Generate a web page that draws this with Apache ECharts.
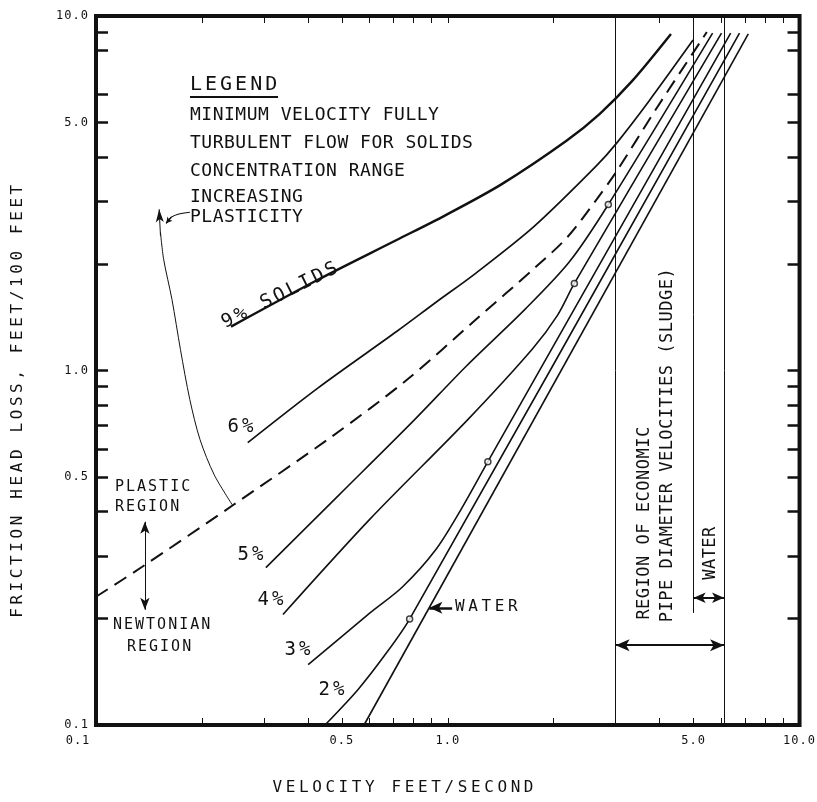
<!DOCTYPE html>
<html>
<head>
<meta charset="utf-8">
<script src="https://cdn.jsdelivr.net/npm/echarts@6.0.0/dist/echarts.min.js"></script>
<style>
html,body{margin:0;padding:0;background:#ffffff;}
#chart{width:817px;height:802px;}
</style>
</head>
<body>
<div id="chart"></div>
<script>
// ---- Data (velocity ft/s, friction head loss ft/100 ft) ----
const xTickValues = [0.2,0.3,0.4,0.5,0.6,0.7,0.8,0.9,1,2,3,4,5,6,7,8,9];
const yTickValues = [0.2,0.3,0.4,0.5,0.6,0.7,0.8,0.9,1,2,3,4,5,6,8,9];
const xLabelValues = [0.1,0.5,1,5,10];
const yLabelValues = [0.1,0.5,1,5,10];

const solids9 = [[0.242,1.33],[0.426,1.80],[0.713,2.33],[0.984,2.74],[1.42,3.35],[2.17,4.44],[2.70,5.29],[3.34,6.55],[4.31,8.90]];
const solids6 = [[0.270,0.626],[0.429,0.895],[0.717,1.29],[0.928,1.56],[1.20,1.88],[1.76,2.55],[2.64,3.77],[3.02,4.38],[3.73,5.75],[4.98,8.55]];
const boundary = [[0.1,0.230],[0.135,0.279],[0.246,0.418],[0.468,0.651],[0.767,0.943],[1.20,1.39],[1.77,1.95],[2.19,2.38],[2.65,3.04],[3.01,3.63],[3.94,5.53],[5.45,9.01]];
const solids5 = [[0.304,0.278],[0.491,0.446],[0.805,0.727],[1.13,1.03],[1.66,1.49],[2.22,2.03],[2.86,2.94],[5.66,8.95]];
const solids4 = [[0.340,0.205],[0.598,0.379],[1.14,0.727],[1.74,1.15],[2.05,1.43],[2.29,1.76],[6.00,8.95]];
const solids3 = [[0.401,0.148],[0.601,0.207],[0.743,0.245],[0.924,0.312],[1.09,0.405],[1.30,0.553],[6.37,8.95]];
const solids2 = [[0.452,0.101],[0.556,0.126],[0.664,0.158],[0.779,0.199],[6.75,8.95]];
const water = [[0.578,0.100],[7.15,8.90]];
const turbulentMin = [[0.779,0.199],[1.30,0.553],[2.29,1.76],[2.86,2.94]];
const plasticityArc = [[0.244,0.418],[0.2168,0.508],[0.1976,0.638],[0.1848,0.828],[0.1738,1.146],[0.1644,1.587],[0.1557,2.059],[0.1525,2.454]];
const plasticityLeader = [[0.1849,2.795],[0.1711,2.759],[0.1636,2.705],[0.1583,2.602]];
const sludgeRange = [3.0, 6.1];
const waterRange = [5.0, 6.1];

// letter spacing for the stencil-style lettering (applied by font size)
(function(){
  const P = CanvasRenderingContext2D.prototype;
  if (!('letterSpacing' in P)) return;
  const orig = P.fillText;
  const SP = {'12px':'1px','15px':'2px','16px':'3.6px','17px':'0.5px','18px':'0.5px','20px':'3px'};
  P.fillText = function(t, x, y, w){
    const m = /(\d+(?:\.\d+)?px)/.exec(this.font);
    const s = m && SP[m[1]];
    if (s) {
      const old = this.letterSpacing;
      this.letterSpacing = s;
      const r = (w === undefined) ? orig.call(this, t, x, y) : orig.call(this, t, x, y, w);
      this.letterSpacing = old;
      return r;
    }
    return (w === undefined) ? orig.call(this, t, x, y) : orig.call(this, t, x, y, w);
  };
})();

const FONT = '"DejaVu Sans Mono", monospace';
const INK = '#111';

function curve(name, data, width, dashed) {
  return {
    name: name, type: 'line', data: data, symbol: 'none', smooth: 0.3,
    silent: true, animation: false,
    lineStyle: {color: INK, width: width, type: dashed ? [14, 8] : 'solid'},
    emphasis: {disabled: true}
  };
}

const tickX = {show: true, inside: true, length: 7, lineStyle: {color: INK, width: 1}, customValues: xTickValues};
const tickY = {show: true, inside: true, length: 12, lineStyle: {color: INK, width: 2.5}, customValues: yTickValues};

const arrowLine = (a, b, syms, size, width) => [
  {coord: a, symbol: syms[0], symbolSize: size, lineStyle: {width: width, color: INK, type: 'solid'}},
  {coord: b, symbol: syms[1], symbolSize: size}
];

const waterSeries = curve('Water', water, 1.6, false);
waterSeries.markLine = {
  silent: true, animation: false, symbol: ['none', 'none'],
  label: {show: false},
  lineStyle: {color: INK, width: 1, type: 'solid'},
  emphasis: {disabled: true},
  data: [
    arrowLine([sludgeRange[0], 0.1], [sludgeRange[0], 10], ['none','none'], 1, 1),
    arrowLine([waterRange[0], 0.207], [waterRange[0], 10], ['none','none'], 1, 1),
    arrowLine([sludgeRange[1], 0.1], [sludgeRange[1], 10], ['none','none'], 1, 1),
    arrowLine([sludgeRange[0], 0.168], [sludgeRange[1], 0.168], ['arrow','arrow'], [9, 14], 2),
    arrowLine([waterRange[0], 0.2285], [waterRange[1], 0.2285], ['arrow','arrow'], [8, 12], 2),
    arrowLine([0.1377, 0.3744], [0.1377, 0.2113], ['arrow','arrow'], [7, 12], 1),
    arrowLine([1.029, 0.214], [0.8866, 0.214], ['none','arrow'], [9, 13], 2.5),
    arrowLine([0.1525, 2.40], [0.1512, 2.85], ['none','arrow'], [6, 13], 1),
    arrowLine([0.1636, 2.705], [0.1583, 2.602], ['none','arrow'], [5, 6], 1.2)
  ]
};

function txt(text, x, y, size, opts) {
  opts = opts || {};
  return {
    type: 'text', x: x, y: y, rotation: opts.rot || 0, silent: true,
    style: {text: text, fontSize: size, fontFamily: FONT, fill: INK,
            align: opts.align || 'left', verticalAlign: 'middle'}
  };
}

const chart = echarts.init(document.getElementById('chart'), null, {renderer: 'canvas'});
chart.setOption({
  backgroundColor: '#ffffff',
  animation: false,
  textStyle: {fontFamily: FONT, color: INK},
  grid: {left: 96, right: 9, top: 16, bottom: 77, show: true, borderColor: INK, borderWidth: 4, backgroundColor: 'transparent'},
  xAxis: [
    {
      type: 'log', logBase: 10, min: 0.1, max: 10, position: 'bottom',
      axisLine: {show: false}, splitLine: {show: false},
      axisTick: tickX,
      axisLabel: {
        show: true, margin: 10, color: INK, fontFamily: FONT, fontSize: 12,
        customValues: xLabelValues,
        formatter: v => (Math.abs(v - 0.1) < 1e-9 ? '{l|0.1}' : Number(v).toFixed(1)),
        rich: {l: {padding: [0, 36, 0, 0], fontFamily: FONT, fontSize: 12, color: INK}}
      },
      name: 'VELOCITY FEET/SECOND', nameLocation: 'middle', nameGap: 55,
      nameTextStyle: {fontFamily: FONT, fontSize: 16, color: INK, padding: [0, 86, 0, 0]}
    },
    {
      type: 'log', logBase: 10, min: 0.1, max: 10, position: 'top',
      axisLine: {show: false}, splitLine: {show: false},
      axisTick: tickX, axisLabel: {show: false}
    }
  ],
  yAxis: [
    {
      type: 'log', logBase: 10, min: 0.1, max: 10, position: 'left',
      axisLine: {show: false}, splitLine: {show: false},
      axisTick: tickY,
      axisLabel: {
        show: true, margin: 7, color: INK, fontFamily: FONT, fontSize: 12,
        customValues: yLabelValues,
        formatter: v => Number(v).toFixed(1)
      },
      name: 'FRICTION HEAD LOSS, FEET/100 FEET', nameLocation: 'middle', nameGap: 70,
      nameTextStyle: {fontFamily: FONT, fontSize: 16, color: INK, padding: [0, 58, 0, 0]}
    },
    {
      type: 'log', logBase: 10, min: 0.1, max: 10, position: 'right',
      axisLine: {show: false}, splitLine: {show: false},
      axisTick: tickY, axisLabel: {show: false}
    }
  ],
  series: [
    curve('9% solids', solids9, 2.4, false),
    curve('6%', solids6, 1.7, false),
    curve('Plastic / Newtonian boundary', boundary, 2, true),
    curve('5%', solids5, 1.6, false),
    curve('4%', solids4, 1.6, false),
    curve('3%', solids3, 1.6, false),
    curve('2%', solids2, 1.6, false),
    waterSeries,
    {
      name: 'Minimum velocity fully turbulent flow', type: 'scatter', data: turbulentMin,
      symbol: 'circle', symbolSize: 6, silent: true, animation: false, z: 5,
      itemStyle: {color: '#ffffff', borderColor: INK, borderWidth: 1.5}
    },
    curve('Increasing plasticity', plasticityArc, 1, false),
    curve('leader', plasticityLeader, 1.2, false)
  ],
  graphic: [
    txt('LEGEND', 190, 85, 20),
    {type: 'rect', silent: true, shape: {x: 190, y: 96, width: 88, height: 2}, style: {fill: INK}},
    txt('MINIMUM VELOCITY FULLY', 190, 115, 18),
    txt('TURBULENT FLOW FOR SOLIDS', 190, 143, 18),
    txt('CONCENTRATION RANGE', 190, 171, 18),
    txt('INCREASING', 190, 197, 18),
    txt('PLASTICITY', 190, 217, 18),
    txt('9% SOLIDS', 281, 295, 19, {align: 'center', rot: 0.46}),
    txt('6%', 242, 427, 19, {align: 'center'}),
    txt('5%', 252, 555, 19, {align: 'center'}),
    txt('4%', 272, 600, 19, {align: 'center'}),
    txt('3%', 299, 650, 19, {align: 'center'}),
    txt('2%', 333, 690, 19, {align: 'center'}),
    txt('PLASTIC', 115, 487, 15),
    txt('REGION', 115, 507, 15),
    txt('NEWTONIAN', 113, 625, 15),
    txt('REGION', 127, 647, 15),
    txt('WATER', 455, 607, 16),
    txt('REGION OF ECONOMIC', 645, 523, 17, {align: 'center', rot: Math.PI / 2}),
    txt('PIPE DIAMETER VELOCITIES (SLUDGE)', 668, 445, 17, {align: 'center', rot: Math.PI / 2}),
    txt('WATER', 711, 553, 17, {align: 'center', rot: Math.PI / 2})
  ]
});
</script>
</body>
</html>
